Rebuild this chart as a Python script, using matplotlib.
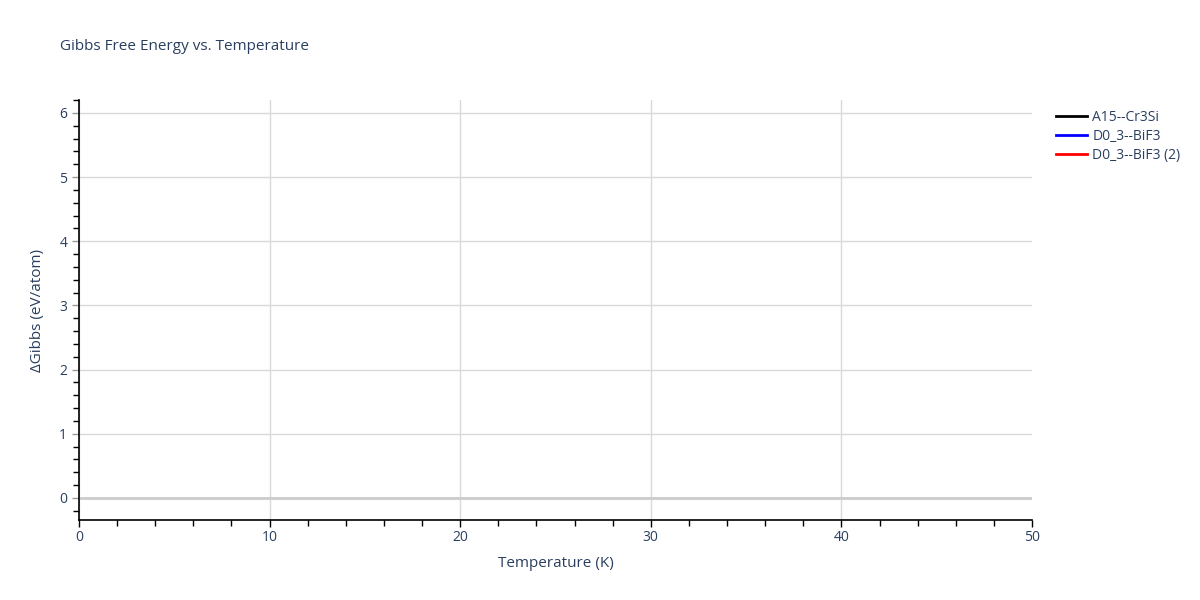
import matplotlib.pyplot as plt
from matplotlib.ticker import MultipleLocator

# series shown in the legend; no points fall inside the visible range
temperature = []
a15_cr3si = []
d0_3_bif3 = []
d0_3_bif3_2 = []

labels = ['A15--Cr3Si', 'D0_3--BiF3', 'D0_3--BiF3 (2)']
colors = ['black', 'blue', 'red']

text_color = '#2a3f5f'
grid_color = '#d9d9d9'

plt.rcParams['font.family'] = ['Open Sans', 'DejaVu Sans']

fig = plt.figure(figsize=(12, 6), dpi=100)
ax = fig.add_axes([79 / 1200, 80 / 600, 953 / 1200, 420 / 600])

for y, label, color in zip([a15_cr3si, d0_3_bif3, d0_3_bif3_2], labels, colors):
    ax.plot(temperature, y, color=color, linewidth=2, label=label)

ax.set_xlim(0, 50)
ax.set_ylim(-0.343, 6.2)

ax.xaxis.set_major_locator(MultipleLocator(10))
ax.xaxis.set_minor_locator(MultipleLocator(2))
ax.yaxis.set_major_locator(MultipleLocator(1))
ax.yaxis.set_minor_locator(MultipleLocator(0.2))

ax.grid(True, which='major', color=grid_color, linewidth=1)
ax.axhline(0, color='#cccccc', linewidth=2, zorder=1)
ax.set_axisbelow(True)

for side in ['top', 'right']:
    ax.spines[side].set_visible(False)
for side in ['left', 'bottom']:
    ax.spines[side].set_color('black')
    ax.spines[side].set_linewidth(1.2)

ax.tick_params(which='major', direction='out', length=5, width=1,
               color='#999999', labelcolor=text_color, labelsize=10)
ax.tick_params(which='minor', direction='out', length=4, width=1, color='black')
ax.tick_params(axis='x', which='major', color='black', length=5, pad=2)

fig.canvas.draw()
# no vertical grid line on the right edge
for tick in ax.xaxis.get_major_ticks():
    if abs(tick.get_loc() - 50) < 1e-6:
        tick.gridline.set_visible(False)

ax.set_xlabel('Temperature (K)', color=text_color, fontsize=11, labelpad=8)
ax.set_ylabel('ΔGibbs (eV/atom)', color=text_color, fontsize=11, labelpad=10)

fig.text(60 / 1200, 1 - 46 / 600, 'Gibbs Free Energy vs. Temperature',
         color=text_color, fontsize=11, va='center', ha='left')

leg = ax.legend(loc='upper left', bbox_to_anchor=(1.015, 1.0), frameon=False,
                fontsize=10, handlelength=2.2, handletextpad=0.4,
                labelspacing=0.3, borderaxespad=0.3)
for t in leg.get_texts():
    t.set_color(text_color)
# legend handles need visible lines even though the series are empty
for h, c in zip(leg.get_lines(), colors):
    h.set_color(c)

fig.savefig('out.png', dpi=100)
